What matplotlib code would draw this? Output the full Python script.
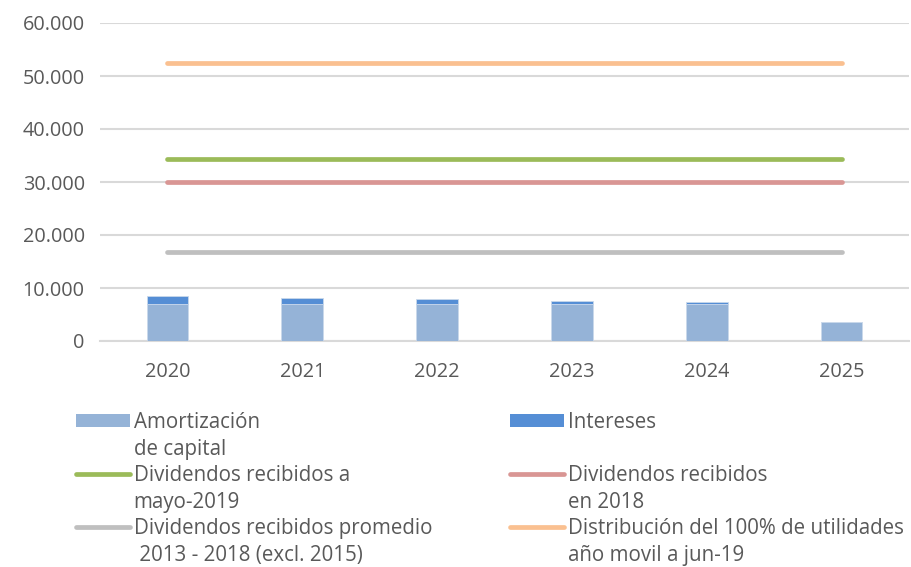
import matplotlib
matplotlib.use("Agg")
import matplotlib.pyplot as plt
from matplotlib.patches import Patch
from matplotlib.lines import Line2D
import numpy as np

years = ["2020", "2021", "2022", "2023", "2024", "2025"]
amortizacion = [7000, 7000, 7000, 7000, 7050, 3500]
intereses = [1500, 1150, 900, 600, 300, 50]
div_mayo_2019 = [34300] * 6
div_2018 = [30000] * 6
div_promedio = [16800] * 6
distribucion_100 = [52450] * 6
yticks = [0, 10000, 20000, 30000, 40000, 50000, 60000]
ytick_labels = ["0", "10.000", "20.000", "30.000", "40.000", "50.000", "60.000"]

labels = {
    "amort": "Amortización",
    "amort2": "de capital",
    "int": "Intereses",
    "green": "Dividendos recibidos a",
    "green2": "mayo-2019",
    "red": "Dividendos recibidos",
    "red2": "en 2018",
    "gray": "Dividendos recibidos promedio",
    "gray2": " 2013 - 2018 (excl. 2015)",
    "orange": "Distribución del 100% de utilidades",
    "orange2": "año movil a jun-19",
}

c_amort = "#95B3D7"
c_int = "#558ED5"
c_green = "#9BBB59"
c_red = "#D99694"
c_gray = "#BFBFBF"
c_orange = "#FAC090"
txt = "#595959"
grid = "#D9D9D9"

plt.rcParams["font.family"] = ["Open Sans", "DejaVu Sans"]
W, H = 912, 567
fig = plt.figure(figsize=(W / 100, H / 100), dpi=100)
ax = fig.add_axes([100 / W, 1 - 341 / H, 809 / W, (341 - 23) / H])

x = np.arange(len(years))
bw = 0.31
ax.bar(x, amortizacion, bw, color=c_amort, edgecolor="#C9D8EB", linewidth=0.6, zorder=3)
ax.bar(x, intereses, bw, bottom=amortizacion, color=c_int, edgecolor="#C9D8EB", linewidth=0.6, zorder=3)

lw = 3.4
for vals, col in [(distribucion_100, c_orange), (div_mayo_2019, c_green),
                  (div_2018, c_red), (div_promedio, c_gray)]:
    ax.plot(x, vals, color=col, lw=lw, solid_capstyle="round", zorder=4)

ax.set_xlim(-0.5, len(years) - 0.5)
ax.set_ylim(0, 60000)
ax.set_yticks(yticks)
ax.set_yticklabels(ytick_labels)
ax.set_xticks(x)
ax.set_xticklabels(years)
ax.tick_params(axis="both", length=0, labelsize=14.3, colors=txt)
ax.tick_params(axis="y", pad=11)
ax.tick_params(axis="x", pad=15)
ax.yaxis.grid(True, color=grid, lw=1.5, zorder=0)
for s in ["top", "right", "left"]:
    ax.spines[s].set_visible(False)
ax.spines["bottom"].set_color(grid)
ax.spines["bottom"].set_linewidth(1.5)
ax.spines["bottom"].set_zorder(1)

blank = Line2D([], [], color="none")
col1_handles = [Patch(facecolor=c_amort, edgecolor="none"), blank,
                Line2D([], [], color=c_green, lw=lw, solid_capstyle="round"), blank,
                Line2D([], [], color=c_gray, lw=lw, solid_capstyle="round"), blank]
col1_labels = [labels["amort"], labels["amort2"], labels["green"], labels["green2"],
               labels["gray"], labels["gray2"]]
col2_handles = [Patch(facecolor=c_int, edgecolor="none"), blank,
                Line2D([], [], color=c_red, lw=lw, solid_capstyle="round"), blank,
                Line2D([], [], color=c_orange, lw=lw, solid_capstyle="round"), blank]
col2_labels = [labels["int"], "", labels["red"], labels["red2"],
               labels["orange"], labels["orange2"]]

common = dict(loc="upper left", frameon=False, fontsize=14.8, labelcolor=txt,
              handlelength=2.65, handleheight=0.6, handletextpad=0.15,
              labelspacing=0.27, borderpad=0, borderaxespad=0,
              bbox_transform=fig.transFigure)
leg1 = fig.legend(col1_handles, col1_labels, bbox_to_anchor=(76 / W, 1 - 412 / H), **common)
leg2 = fig.legend(col2_handles, col2_labels, bbox_to_anchor=(510 / W, 1 - 412 / H), **common)

fig.savefig("out.png", dpi=100)
